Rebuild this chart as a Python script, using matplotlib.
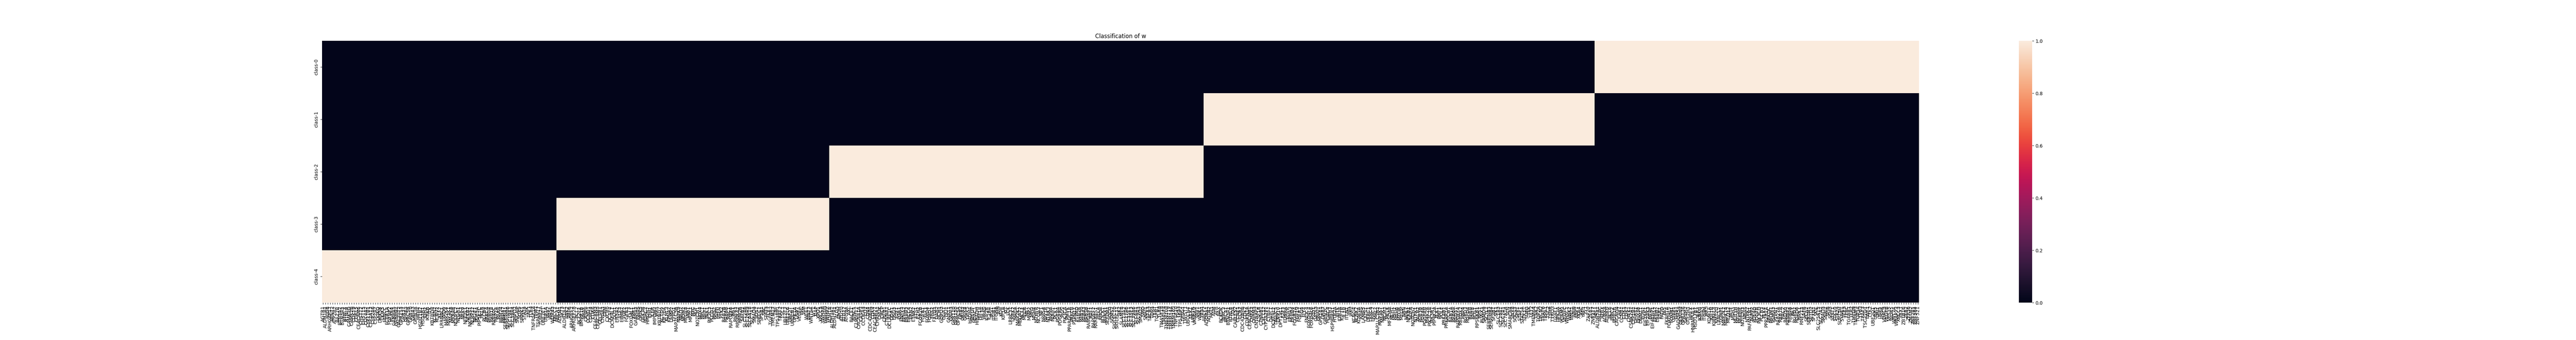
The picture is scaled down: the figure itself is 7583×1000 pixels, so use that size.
import matplotlib
matplotlib.use("Agg")
import matplotlib.pyplot as plt
import seaborn as sns
import pandas as pd

classes = ["class-0", "class-1", "class-2", "class-3", "class-4"]

genes_class4 = [
    "AGTR1", "ALDH1B1", "ALG8", "ARHGAP17", "ARNT2", "ATP2B2", "BAZ2B", "BTN3A2", "BTN3A3", "BTNL3",
    "BTNL9", "CAMK1D", "CAMK2B", "CDK19", "CDKL5", "CEACAM6", "CHST12", "CHST15", "COL4A2", "CYP11B1",
    "CYP2A13", "CYP2A6", "CYP2A7", "DGKQ", "DHX58", "DOK5", "FANCC", "FCER1A", "FGFBP2", "FGFR4",
    "GABRA5", "GABRB2", "GAL3ST2", "GPR153", "GPR37", "GPR63", "GPRC5B", "GRB10", "GRIA3", "GRIN3A",
    "HRH4", "HSD11B2", "HSD3B1", "IDH2", "IKBKB", "ITK", "KBTBD8", "KCNN2", "KCNV2", "KLF2",
    "LRRN4CL", "LYPD6", "MAP2K4", "MAP3K1", "MAPK8", "MXRA8", "NDUFC2", "NEGR1", "NEK3", "NEK9",
    "NFE2L1", "NFKB2", "NKIRAS1", "NLRP12", "NR2E1", "PDE5A", "PIP5K1C", "PKLR", "PLCB4", "PRKCA",
    "PRRG4", "RAB18", "RAB40C", "RAP2A", "RARA", "RBM24", "RBM47", "SERPINA1", "SERPINB6", "SLC19A1",
    "SLC39A4", "SMPD2", "SNCAIP", "SOX9", "SPINK1", "STAT4", "SYK", "TAF1", "TLR4", "TNFRSF1A",
    "TPM1", "TSPAN17", "TUBB2A", "UBE2E1", "USP14", "VAV2", "WASL", "WDR43", "XRCC1",
]

genes_class3 = [
    "ABCA1", "ADRM1", "AKT3", "ALDH1A1", "ANK2", "ARF6", "ARHGEF2", "ARHGEF28", "BCL2", "BCL2L1",
    "BMPR1B", "BRAF", "CASP8", "CCND1", "CDH24", "CDK6", "CEACAM3", "CEACAM5", "CELSR1", "CNGA3",
    "CPM", "CXCR6", "DCAF4", "DCAF4L1", "DLG1", "EIF5A2", "ELF3", "EPHB2", "FGF2", "FGFR3",
    "FLT3", "FOXD4L1", "FPR1", "GABRA2", "GNAS", "GRIK5", "GSK3B", "HDAC2", "HMGN2", "IDH1",
    "IL6R", "IMPDH2", "JAK1", "KBTBD7", "KCTD9", "KIF20A", "KLHL3", "KPNA2", "LAMP2", "LYPD1",
    "MAP1LC3B", "MAPK9", "MBD2", "MDM2", "MFGE8", "MIB1", "MPZL1", "MYC", "NGF", "NOTCH1",
    "NOX4", "NPC1", "NRP1", "PAK1", "PIK3C3", "PLCG1", "PMS2", "PSPH", "PTEN", "PTK2",
    "RAB2B", "RAB6B", "RAC1", "RAPGEF6", "RB1", "RNF43", "RPS6KA2", "RRM2B", "SAFB2", "SLC12A6",
    "SLC26A9", "SLC6A18", "SLC7A1", "SMAD4", "SOS1", "SPECC1", "SPSB1", "SRC", "STAT3", "TCF7",
    "TGFBR2", "TMEM17", "TNF", "TP53BP1", "TRAF2", "TSC1", "UBE2E3", "UBE2L6", "UBE2T", "UBQLN1",
    "UPK1A", "USP7", "VEGFA", "VHL", "VIM", "WEE1", "WNT3", "WNT5A", "WT1", "XIAP",
    "XPO1", "XRCC5", "YWHAB", "YWHAQ", "YWHAZ",
]

genes_class2 = [
    "ADH1A", "ALDH3A1", "ALDH7A1", "ALG5", "APOH", "ATG10", "ATG12", "ATG9A", "AXL", "BACE1",
    "BIRC5", "C19orf12", "CACNA1A", "CASP3", "CCDC43", "CD2", "CD44", "CDC42BPA", "CDK4", "CEACAM21",
    "CHRNA1", "CHUK", "CRCP", "CREB1", "CTNNA1", "DCLRE1C", "DDR1", "DSG3", "E2F1", "EGR1",
    "ENPP3", "EPHA2", "ERBB3", "ERCC4", "ERN2", "ETNK2", "ETS1", "EZH2", "FCGR2B", "FGFR1",
    "FLT1", "FOXD4", "FOXO1", "FRS2", "FXYD3", "GAB2", "GCH1", "GDPD3", "GGA1", "GLI1",
    "GNA11", "GNAI3", "GPR110", "GPR150", "GPRC5A", "GRB2", "GRIA2", "GRIK4", "GRK5", "HADHA",
    "HBEGF", "HDAC1", "HIBADH", "HIF1A", "HIF3A", "HRAS", "IGF2R", "IL2RA", "IRS1", "ITGB1",
    "ITGB8", "JUN", "KDR", "KIF1A", "KIT", "LCK", "LRRC31", "LRRK2", "MAEA", "MAP2K1",
    "MBOAT2", "MCL1", "MECR", "MET", "MMP2", "MPG", "MSH4", "MTHFR", "NCOA3", "NF1",
    "NPAS4", "NPY1R", "NTRK3", "PAPPA", "PARP1", "PCK1", "PDE8A", "PDGFRA", "PIGS", "PIK3CA",
    "PMVK", "PPARGC1A", "PRKCB", "PTPN11", "PTPRD", "RAB28", "RAB30", "RAB43", "RAB5B", "RABGAP1",
    "RAF1", "RAPGEF2", "RARRES1", "RELA", "RHOA", "ROCK1", "RUNX1", "SETDB1", "SGCG", "SGMS2",
    "SIGLEC10", "SIGLEC11", "SIK2", "SLAMF8", "SLC13A2", "SLC27A6", "SLC35E1", "SLC35E3", "SLC39A6", "SLC6A1",
    "SLC9A3", "SMAD2", "SMO", "SNAI1", "STX3", "TACR2", "TDP1", "TERT", "TGFB1", "TLR8",
    "TM4SF18", "TM4SF4", "TMEM108", "TMEM119", "TMEM14A", "TMEM165", "TNFSF10", "TP53", "TP53BP2", "TPSG1",
    "TWIST1", "UBQLN4", "ULK1", "UPK1B", "VANGL2", "VAV1", "WNK1", "YES1",
]

genes_class1 = [
    "ABCF2", "ADORA1", "AGTR2", "AKT1", "ATM", "ATR", "BAX", "BCKDK", "BIRC3", "BRCA1",
    "BTN3A1", "BTNL8", "C1QA", "CABLES2", "CCNE1", "CCR7", "CDC42BPB", "CDK2", "CDKN1A", "CEACAM1",
    "CHEK2", "CHRM3", "CNTNAP2", "CSF1R", "CTNNB1", "CXCL12", "CYP2A7P1", "CYR61", "DAPL1", "DCAF4L2",
    "DNAJC5", "DPP10", "DPY19L1", "E2F3", "EDNRA", "EGFR", "EPHA3", "ERBB4", "FCGR2A", "FGF19",
    "FGFR2", "FIG4", "FLT4", "FNDC4", "FOXD4L4", "FOXD4L6", "FZD1", "GATA3", "GNAI1", "GPR161",
    "GRB7", "GRIN2C", "HDAC4", "HRH3", "HSP90AA1", "HTR2A", "IBTK", "IDH3A", "IGF1R", "IL1B",
    "ITLN1", "IYD", "JAK2", "KCNG4", "KCNK2", "KDM5A", "KRAS", "LAMA5", "LATS1", "LRRC1",
    "LRRC4", "LRRC7", "MAL2", "MAP1LC3B2", "MAP3K7", "MAPK1", "MCM2", "MELK", "MFSD4A", "MLH1",
    "MSH2", "MSH6", "MTOR", "MYLIP", "NBN", "NEIL1", "NFKB1", "NGFR", "NOTCH2", "NTRK1",
    "PALB2", "PDE3B", "PDE4A", "PDGFRB", "PI4K2A", "PIK3C2A", "PIK3R1", "PIP4K2A", "PLK1", "PMF1",
    "POLE", "PRKAB1", "PRKAR1A", "PTCH1", "RAB1A", "RAB6A", "RAD51", "RAPGEF4", "RBFOX2", "RBP4",
    "RGPD3", "RGPD4", "RHEB", "RNF8", "ROS1", "RPS6KB1", "RPS7", "RUNX3", "SAMD9", "SCYL2",
    "SERPINB3", "SERPINB4", "SF3B1", "SIK1", "SLC1A3", "SLC29A1", "SLC2A1", "SLC7A14", "SLN", "SMARCA4",
    "SNX8", "SOCS3", "SPP1", "STAP1", "STAT5A", "STK11", "SUFU", "TEK", "TET2", "TMEM64",
    "TNK2", "TOP2A", "TPCN2", "TRAF6", "TRPA1", "TSC2", "TSHR", "TYRO3", "U2AF1", "UPK3A",
    "USP9X", "VCAM1", "VEGFC", "WHSC1", "WNK2", "WNT1", "WRN", "XBP1", "XKR4", "XPC",
    "YAP1", "YY1", "ZAP70", "ZEB1", "ZNF217",
]

genes_class0 = [
    "ABL1", "ALDH5A1", "ARL4C", "ATRX", "AURKA", "AURKB", "BCL6", "BIRC2", "BUB1B", "CACNG4",
    "CAV1", "CCNB1", "CDK1", "CDK7", "CHEK1", "CSNK2A1", "CYP1B1", "DHRS1", "DHX38", "DNMT1",
    "EDN1", "EIF2AK1", "EIF2AK3", "EIF4E", "EIF4EBP1", "EPHA7", "ERBB2", "ESR1", "FADD", "FAS",
    "FKBP1A", "FOXD4L5", "FOXM1", "G3BP1", "GAB1", "GADD45A", "GEMIN4", "GPR176", "GPSM2", "GTF2H1",
    "HHEX", "HNRNPUL1", "HSD17B7", "IER3", "IKBKG", "ITGA3", "ITGAV", "JAK3", "KDM1A", "KIF1B",
    "KIRREL3", "KMT2D", "LANCL2", "LONP1", "MAP2K2", "MAPK14", "MED12", "MITF", "MSH3", "MUTYH",
    "MYD88", "NFKBIE", "NOTCH3", "NRAS", "NTRK2", "PAFAH1B1", "PARP2", "PDE4D", "PDGFB", "PIK3CD",
    "PLCB3", "PLK4", "PPP2R1A", "PRKDC", "PROM1", "PSMA3", "PTPN1", "RAB27A", "RAB7A", "RAC2",
    "RAD50", "RANBP2", "RBBP8", "RET", "RGPD2", "RGPD6", "RIPK1", "RNF213", "SAFB", "SEC62",
    "SERTM1", "SETD2", "SFXN1", "SKIL", "SLC25A15", "SLC2A2", "SMAD3", "SNAI2", "SPIB", "SSH3",
    "STAT1", "STK10", "STK24", "SUPT5H", "SYNE1", "TCF3", "TFRC", "TGFBR1", "TLR2", "TMED9",
    "TNFAIP3", "TOP3A", "TP63", "TRAF3", "TSC22D1", "TWF1", "TYK2", "UBE2Q1", "UBR5", "URI1",
    "USP5", "USP8", "VDAC3", "VEGFB", "VPS35", "WDR5", "WNT7A", "WRAP73", "XRCC3", "YBX1",
    "ZBTB16", "ZEB2", "ZFP36", "ZMYM2", "ZNF281", "ZNF384", "ZNF521",
]

# column blocks in left-to-right order, with the class each block belongs to
block_classes = ["class-4", "class-3", "class-2", "class-1", "class-0"]
block_genes = [genes_class4, genes_class3, genes_class2, genes_class1, genes_class0]

columns = [g for genes in block_genes for g in genes]
data = pd.DataFrame(0.0, index=classes, columns=range(len(columns)))
start = 0
for cls, genes in zip(block_classes, block_genes):
    data.loc[cls, start:start + len(genes) - 1] = 1.0
    start += len(genes)

fig = plt.figure(figsize=(75.83, 10), dpi=100)
ax = sns.heatmap(data, xticklabels=columns, yticklabels=classes)
ax.set_title("Classification of w")
fig.savefig("out.png", dpi=100)
